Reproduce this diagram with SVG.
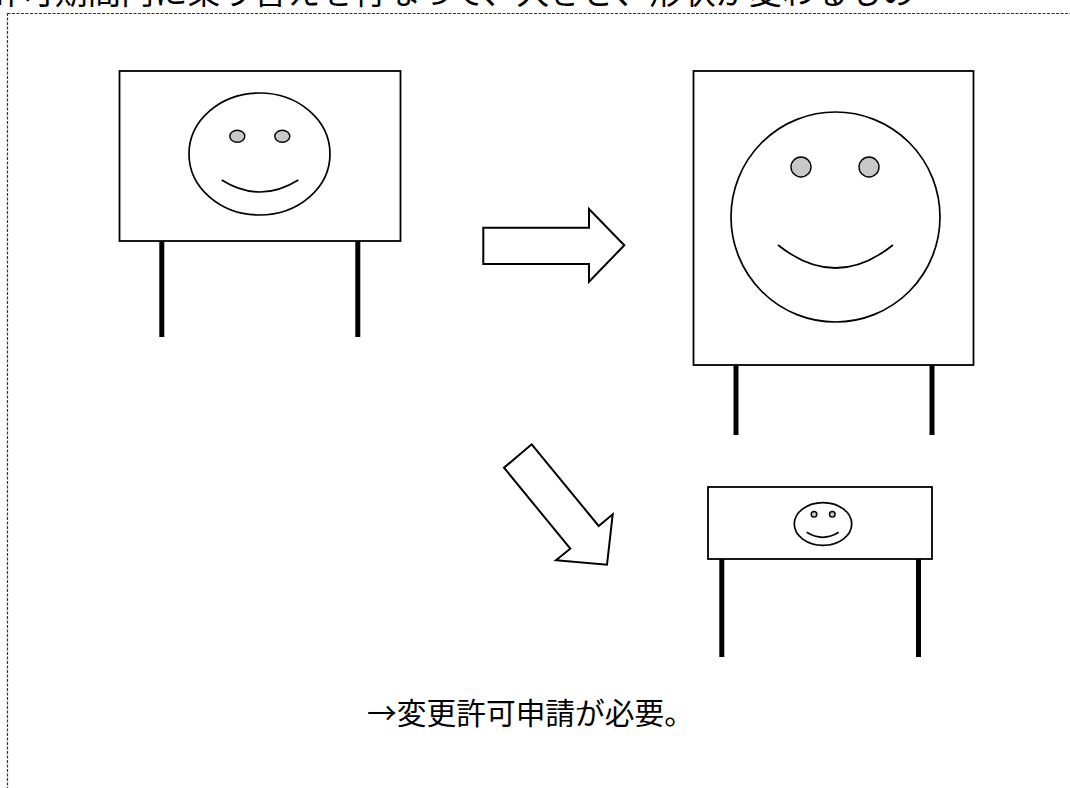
<svg xmlns="http://www.w3.org/2000/svg" width="1070" height="788" viewBox="0 0 1070 788">
<style>
.sign{fill:#fff;stroke:#000;stroke-width:1.8}
.face{fill:none;stroke:#000;stroke-width:1.7}
.eye{fill:#c8c8c8;stroke:#000;stroke-width:1.4}
.leg{stroke:#000;stroke-width:5}
.arrow{fill:#fff;stroke:#000;stroke-width:2;stroke-linejoin:miter}
.txt{font-family:"Noto Sans CJK JP","Noto Sans CJK SC",sans-serif;fill:#000}
</style>
<rect width="1070" height="788" fill="#fff"/>
<text class="txt" x="-12" y="4" font-size="33" textLength="927" lengthAdjust="spacingAndGlyphs">許可期間内に乗り替えを行なって、大きさ、形状が変わるもの</text>
<rect x="7.5" y="13.5" width="1080" height="800" fill="none" stroke="#333" stroke-width="1.2" stroke-dasharray="3,1.5"/>
<g id="sign1">
<line class="leg" x1="161.8" y1="241" x2="161.8" y2="337"/>
<line class="leg" x1="357.8" y1="241" x2="357.8" y2="337"/>
<rect class="sign" x="119.5" y="71" width="281" height="170"/>
<ellipse class="face" cx="259.5" cy="154" rx="70.5" ry="61"/>
<ellipse class="eye" cx="237.3" cy="136.3" rx="7.5" ry="6"/>
<ellipse class="eye" cx="282.3" cy="136.3" rx="7.5" ry="6"/>
<path class="face" d="M221.7,180 Q260,204 298.3,180"/>
</g>
<g id="sign2">
<line class="leg" x1="736" y1="365" x2="736" y2="435"/>
<line class="leg" x1="932" y1="365" x2="932" y2="435"/>
<rect class="sign" x="693.5" y="71" width="280" height="294"/>
<ellipse class="face" cx="835.5" cy="217" rx="104.5" ry="105"/>
<circle class="eye" cx="801" cy="167" r="10"/>
<circle class="eye" cx="869" cy="167" r="10"/>
<path class="face" d="M778,245 Q835.5,291 893,245"/>
</g>
<g id="sign3">
<line class="leg" x1="721.8" y1="559" x2="721.8" y2="657"/>
<line class="leg" x1="918.5" y1="559" x2="918.5" y2="657"/>
<rect class="sign" x="708" y="487" width="224" height="72"/>
<ellipse class="face" cx="823" cy="524" rx="28.7" ry="21.3"/>
<circle class="eye" cx="814" cy="514.3" r="2.8"/>
<circle class="eye" cx="832.3" cy="514.3" r="2.8"/>
<path class="face" d="M806.7,532.3 Q822.7,542.3 838.7,532.3"/>
</g>
<g id="connectors">
<polygon class="arrow" points="483.3,227.7 589,227.7 589,209 624.3,245.3 589,281.7 589,264 483.3,264"/>
<polygon class="arrow" points="531.7,444.3 598.7,526 612.7,514.3 607,564.7 556,560.3 570.3,548.7 504,467.7"/>
</g>
<g id="note">
<text class="txt" x="367" y="723.5" font-size="29.5" textLength="327" lengthAdjust="spacingAndGlyphs">→変更許可申請が必要。</text>
</g>
</svg>
